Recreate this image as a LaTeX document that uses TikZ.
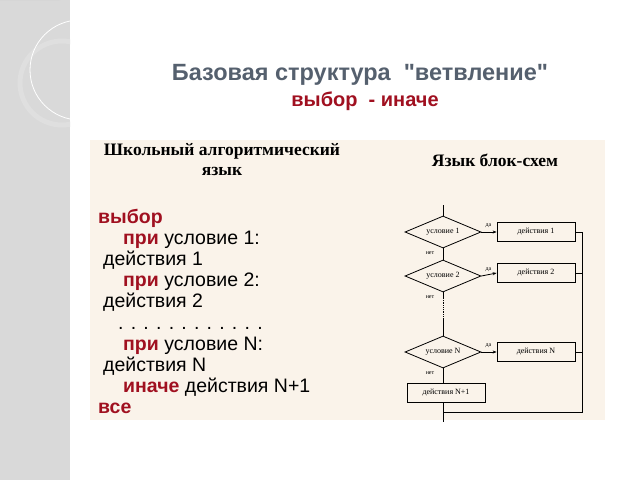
\documentclass[tikz,border=0pt]{standalone}
\usepackage{fontspec}
\setmainfont{Liberation Serif}
\setsansfont{Liberation Sans}[Ligatures=TeXOff]
\usetikzlibrary{shapes.geometric,arrows.meta}
\definecolor{titc}{HTML}{55606E}
\definecolor{kw}{HTML}{A01020}
\definecolor{panel}{HTML}{FAF3EA}
\begin{document}
\begin{tikzpicture}[x=1pt,y=-1pt,
 code/.style={anchor=base west,font=\sffamily\fontsize{19.5}{19.5}\selectfont,inner sep=0},
 dia/.style={diamond,draw,aspect=2.4,minimum width=76pt,minimum height=32pt,inner sep=0,font=\fontsize{8}{8}\selectfont},
 act/.style={draw,minimum width=78pt,minimum height=19pt,inner sep=0,font=\fontsize{8}{8}\selectfont},
 lab/.style={font=\fontsize{6}{6}\selectfont,inner sep=0},
 arr/.style={-{Stealth[length=4pt]}}]
\useasboundingbox (0,0) rectangle (640,480);
\fill[white] (0,0) rectangle (640,480);
\fill[gray!30] (0,0) rectangle (70,480);
\begin{scope}
\clip (0,0) rectangle (70,480);
\fill[gray!42] (60,0) arc[start angle=0,end angle=-95,radius=60] -- (0,0) -- cycle;
\draw[white,line width=1pt] (60,0) arc[start angle=0,end angle=-95,radius=60];
\draw[white!75!gray,line width=5pt] (62,83) circle[radius=42];
\draw[white,line width=0.8pt] (80,70) circle[radius=50];
\end{scope}
\fill[panel] (90,140) rectangle (605,420);
\node[font=\sffamily\bfseries\fontsize{23.5}{23.5}\selectfont,text=titc] (t1) at (360,75) {Базовая структура \ "ветвление"};
\node[font=\sffamily\bfseries\fontsize{20}{20}\selectfont,text=kw] (t2) at (365,101) {выбор \ - иначе};
\node[font=\bfseries\fontsize{17.5}{20}\selectfont,align=center] (h1) at (222,160) {Школьный алгоритмический\\язык};
\node[font=\bfseries\fontsize{17.5}{20}\selectfont] (h2) at (495,160) {Язык блок-схем};
\node[code,text=kw,font=\sffamily\bfseries\fontsize{19.5}{19.5}\selectfont] (c1) at (98,223) {выбор};
\node[code] (c2) at (123,244) {\textcolor{kw}{\bfseries при} условие 1:};
\node[code] (c3) at (103,265) {действия 1};
\node[code] (c4) at (123,286) {\textcolor{kw}{\bfseries при} условие 2:};
\node[code] (c5) at (103,307) {действия 2};
\node[code] (c6) at (118,329) {. . . . . . . . . . . .};
\node[code] (c7) at (123,350) {\textcolor{kw}{\bfseries при} условие N:};
\node[code] (c8) at (103,371) {действия N};
\node[code] (c9) at (123,392) {\textcolor{kw}{\bfseries иначе} действия N+1};
\node[code,text=kw,font=\sffamily\bfseries\fontsize{19.5}{19.5}\selectfont] (c10) at (98,413) {все};
% flowchart
\begin{scope}[line width=0.8pt]
\coordinate (top) at (443,205);
\node[dia] (d1) at (443,232) {условие 1};
\node[dia] (d2) at (443,276) {условие 2};
\node[dia] (dn) at (443,352) {условие N};
\node[act] (a1) at (536,232) {действия 1};
\node[act] (a2) at (536,273) {действия 2};
\node[act] (an) at (536,352) {действия N};
\node[act] (a3) at (446,393) {действия N+1};
\coordinate (j) at (443,412);
\coordinate (bot) at (443,422);
\coordinate (r) at (582,412);
\draw (top) -- (d1.north);
\draw (d1.south) -- (d2.north);
\draw (d2.south) -- (443,298);
\draw[densely dotted] (443,298) -- (443,318);
\draw (443,318) -- (dn.north);
\draw (dn.south) -- (a3.north -| dn.south);
\draw (a3.south -| dn.south) -- (bot);
\foreach \d/\a in {d1/a1,d2/a2,dn/an}{
 \draw[arr] (\d.east) -- (\a.west);
 \draw (\a.east) -- (\a.east -| r);
 \node[lab] at ([xshift=7pt,yshift=6pt]\d.east) {да};
 \node[lab] at ([xshift=-13pt,yshift=-5pt]\d.south) {нет};}
\draw (a1.east -| r) -- (r) -- (j);
\end{scope}
\end{tikzpicture}
\end{document}
